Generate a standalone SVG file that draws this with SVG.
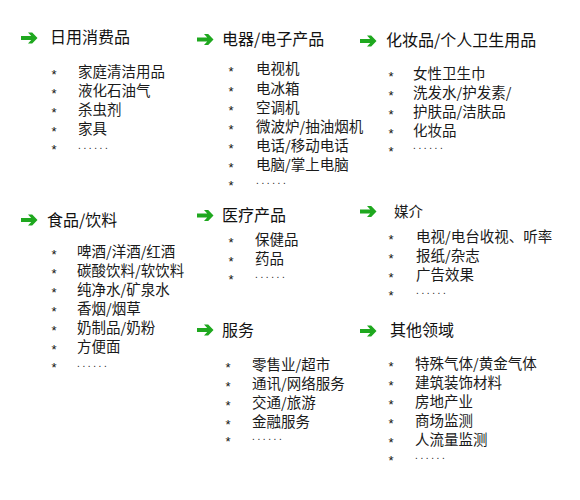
<svg xmlns="http://www.w3.org/2000/svg" xmlns:xlink="http://www.w3.org/1999/xlink" width="580" height="500" viewBox="0 0 580 500">
<style>
  .t { font-family: "Noto Sans CJK SC", "Liberation Sans", sans-serif; font-size: 16px; fill: #111; }
  .i { font-family: "Noto Sans CJK SC", "Liberation Sans", sans-serif; font-size: 14.5px; fill: #1a1a1a; }
  .a { font-family: "Liberation Sans", sans-serif; font-size: 13px; fill: #111; text-anchor: middle; }
  .d { font-family: "Liberation Sans", sans-serif; font-size: 10px; fill: #222; letter-spacing: 2.6px; }
</style>
<defs>
  <path id="arr" d="M0,3.6 H10.2 L7,0 H11.2 L16.5,5.5 L11.2,11 H7 L10.2,7.4 H0 Z" fill="#1fa81f"/>
</defs>
<rect width="580" height="500" fill="#ffffff"/>

<g id="daily">
  <use xlink:href="#arr" x="21" y="32.5"/>
  <text class="t" x="50" y="43">日用消费品</text>
  <text class="a" x="54" y="79">*</text><text class="i" x="78" y="77">家庭清洁用品</text>
  <text class="a" x="54" y="98">*</text><text class="i" x="78" y="96">液化石油气</text>
  <text class="a" x="54" y="117">*</text><text class="i" x="78" y="115">杀虫剂</text>
  <text class="a" x="54" y="136">*</text><text class="i" x="78" y="134">家具</text>
  <text class="a" x="54" y="154">*</text><text class="d" x="78" y="148.5">......</text>
</g>

<g id="electronics">
  <use xlink:href="#arr" x="197" y="34"/>
  <text class="t" x="222" y="44.5">电器/电子产品</text>
  <text class="a" x="231" y="75.5">*</text><text class="i" x="256" y="73.5">电视机</text>
  <text class="a" x="231" y="95.5">*</text><text class="i" x="256" y="93.5">电冰箱</text>
  <text class="a" x="231" y="114.5">*</text><text class="i" x="256" y="112.5">空调机</text>
  <text class="a" x="231" y="133.5">*</text><text class="i" x="256" y="131.5">微波炉/抽油烟机</text>
  <text class="a" x="231" y="152.5">*</text><text class="i" x="256" y="150.5">电话/移动电话</text>
  <text class="a" x="231" y="171.5">*</text><text class="i" x="256" y="169.5">电脑/掌上电脑</text>
  <text class="a" x="231" y="189.5">*</text><text class="d" x="256" y="183.5">......</text>
</g>

<g id="cosmetics">
  <use xlink:href="#arr" x="360" y="35.5"/>
  <text class="t" x="386" y="45.5">化妆品/个人卫生用品</text>
  <text class="a" x="391" y="80.5">*</text><text class="i" x="413" y="78.5">女性卫生巾</text>
  <text class="a" x="391" y="99.5">*</text><text class="i" x="413" y="97.5">洗发水/护发素/</text>
  <text class="a" x="391" y="118.5">*</text><text class="i" x="413" y="116.5">护肤品/洁肤品</text>
  <text class="a" x="391" y="137.5">*</text><text class="i" x="413" y="135.5">化妆品</text>
  <text class="a" x="391" y="155.5">*</text><text class="d" x="413" y="148.5">......</text>
</g>

<g id="food">
  <use xlink:href="#arr" x="21" y="214.5"/>
  <text class="t" x="47" y="226">食品/饮料</text>
  <text class="a" x="54" y="258.5">*</text><text class="i" x="77" y="256.5">啤酒/洋酒/红酒</text>
  <text class="a" x="54" y="277.5">*</text><text class="i" x="77" y="275.5">碳酸饮料/软饮料</text>
  <text class="a" x="54" y="296.5">*</text><text class="i" x="77" y="294.5">纯净水/矿泉水</text>
  <text class="a" x="54" y="315.5">*</text><text class="i" x="77" y="313.5">香烟/烟草</text>
  <text class="a" x="54" y="334.5">*</text><text class="i" x="77" y="332.5">奶制品/奶粉</text>
  <text class="a" x="54" y="353.5">*</text><text class="i" x="77" y="351.5">方便面</text>
  <text class="a" x="54" y="372">*</text><text class="d" x="77" y="366.5">......</text>
</g>

<g id="medical">
  <use xlink:href="#arr" x="197" y="210"/>
  <text class="t" x="222" y="221">医疗产品</text>
  <text class="a" x="231" y="246.5">*</text><text class="i" x="255" y="244.5">保健品</text>
  <text class="a" x="231" y="265.5">*</text><text class="i" x="255" y="263.5">药品</text>
  <text class="a" x="231" y="283.5">*</text><text class="d" x="255" y="278">......</text>
</g>

<g id="media">
  <use xlink:href="#arr" x="360" y="206"/>
  <text class="i" x="394" y="217">媒介</text>
  <text class="a" x="391" y="243.5">*</text><text class="i" x="416" y="241.5">电视/电台收视、听率</text>
  <text class="a" x="391" y="262.5">*</text><text class="i" x="416" y="260.5">报纸/杂志</text>
  <text class="a" x="391" y="281.5">*</text><text class="i" x="416" y="279.5">广告效果</text>
  <text class="a" x="391" y="299.5">*</text><text class="d" x="416" y="293.5">......</text>
</g>

<g id="services">
  <use xlink:href="#arr" x="197" y="324.5"/>
  <text class="t" x="222" y="336">服务</text>
  <text class="a" x="228" y="371.5">*</text><text class="i" x="252" y="369.5">零售业/超市</text>
  <text class="a" x="228" y="390.5">*</text><text class="i" x="252" y="388.5">通讯/网络服务</text>
  <text class="a" x="228" y="409.5">*</text><text class="i" x="252" y="407.5">交通/旅游</text>
  <text class="a" x="228" y="428.5">*</text><text class="i" x="252" y="426.5">金融服务</text>
  <text class="a" x="228" y="445.5">*</text><text class="d" x="252" y="439.5">......</text>
</g>

<g id="others">
  <use xlink:href="#arr" x="360" y="325.5"/>
  <text class="t" x="390" y="335.5">其他领域</text>
  <text class="a" x="391" y="370.5">*</text><text class="i" x="415" y="368.5">特殊气体/黄金气体</text>
  <text class="a" x="391" y="389.5">*</text><text class="i" x="415" y="387.5">建筑装饰材料</text>
  <text class="a" x="391" y="408.5">*</text><text class="i" x="415" y="406.5">房地产业</text>
  <text class="a" x="391" y="427.5">*</text><text class="i" x="415" y="425.5">商场监测</text>
  <text class="a" x="391" y="446.5">*</text><text class="i" x="415" y="444.5">人流量监测</text>
  <text class="a" x="391" y="464.5">*</text><text class="d" x="415" y="458.5">......</text>
</g>
</svg>
